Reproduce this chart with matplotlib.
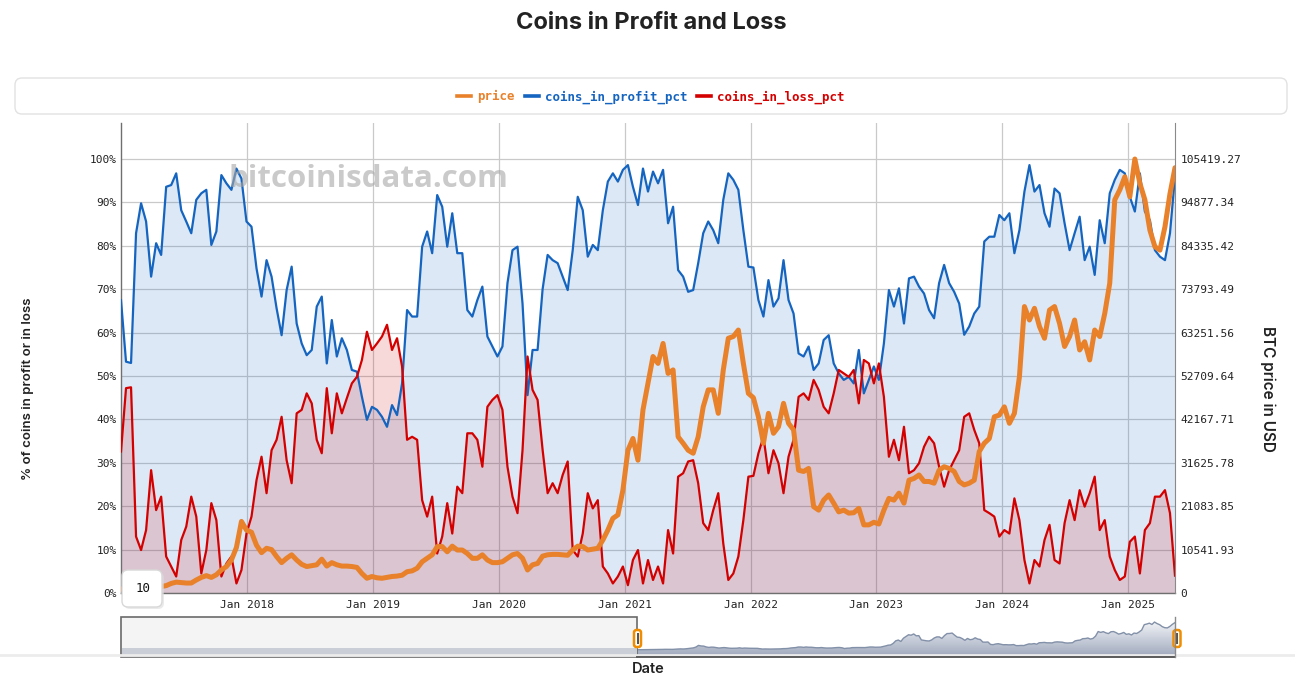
import numpy as np
import pandas as pd
import matplotlib
matplotlib.use('Agg')
import matplotlib.pyplot as plt
import matplotlib.dates as mdates
from matplotlib.patches import FancyBboxPatch, Rectangle, PathPatch
from matplotlib.lines import Line2D
from matplotlib.ticker import FixedLocator, FuncFormatter
from matplotlib.colors import LinearSegmentedColormap

# weekly data, sampled about every two weeks
dates = pd.date_range('2017-01-01', '2025-05-16', periods=211)

profit_pct = [
    67.5, 53.3, 53.0, 82.9, 89.8, 85.6, 72.9, 80.6, 77.9, 93.6,
    94.0, 96.7, 88.2, 85.6, 82.9, 90.6, 92.1, 92.9, 80.2, 83.3,
    96.3, 94.4, 92.9, 97.8, 95.5, 85.6, 84.4, 74.8, 68.3, 76.7,
    72.9, 65.6, 59.4, 69.8, 75.2, 62.1, 57.5, 54.8, 56.0, 66.0,
    68.3, 52.9, 62.9,
    54.5, 58.7, 56.0, 51.4, 51.0, 45.2, 39.9, 42.9, 42.2, 40.6,
    38.3, 43.3, 41.0, 48.3, 65.2, 63.7, 63.7, 79.8, 83.3, 78.3,
    91.7, 89.0, 79.8, 87.5, 78.3, 78.3, 65.2, 63.7, 67.5, 70.6,
    59.1, 56.8, 54.5, 56.8, 71.4, 79.0, 79.8, 66.7, 45.6, 56.0,
    56.0, 70.0,
    77.9, 76.7, 76.0, 72.9, 69.8, 79.0, 91.3, 88.2, 77.5, 80.2,
    79.0, 88.2, 94.8, 96.7, 94.8, 97.5, 98.6, 93.6, 89.4, 97.8,
    92.5, 97.1, 94.4, 97.5, 85.2, 89.0, 74.4, 72.9, 69.4, 69.8,
    76.0, 82.9, 85.6, 83.6, 80.6, 90.6, 96.7, 95.2, 92.9, 83.6,
    75.2, 75.0,
    67.5, 63.7, 72.1, 66.0, 67.9, 76.7, 67.5, 64.4, 55.2, 54.5,
    56.8, 51.4, 52.9, 58.3, 59.4, 52.9, 50.6, 49.1, 49.8, 48.3,
    56.0, 46.0, 49.1, 52.2, 49.1, 57.5, 69.8, 66.0, 70.2, 62.1,
    72.5, 72.9, 70.6, 69.0, 65.2, 63.3, 71.4, 75.6, 71.4, 69.4,
    66.7, 59.5,
    61.4, 64.4, 66.0, 81.0, 82.1, 82.1, 87.1, 85.9, 87.5, 78.3,
    83.6, 92.5, 98.6, 92.5, 94.0, 87.5, 84.4, 93.2, 92.1, 85.2,
    79.0, 82.9, 86.7, 76.7, 79.8, 73.3, 85.9, 80.6, 92.1, 95.2,
    97.5, 96.7, 91.3, 87.9, 96.7, 87.9, 85.9, 79.0, 77.5, 76.7,
    82.9, 96.0,
]

loss_pct = [
    32.6, 47.2, 47.4, 13.0, 9.9, 14.5, 28.3, 19.1, 22.2, 8.4,
    6.1, 3.8, 12.2, 15.3, 22.2, 17.6, 4.5, 9.9, 20.7, 16.8,
    3.8, 6.8, 8.4, 2.2, 5.3, 13.7, 17.6, 26.0, 31.4, 23.0,
    32.9, 35.3, 40.6, 30.6, 25.3, 41.4, 42.2, 46.0, 43.7, 35.3,
    32.2, 47.2, 36.8,
    46.0, 41.4, 44.9, 48.3, 49.8, 53.7, 60.2, 56.0, 57.5, 59.1,
    61.8, 56.0, 58.7, 52.2, 35.3, 36.0, 35.3, 21.4, 17.6, 22.2,
    9.1, 13.0, 20.7, 13.7, 24.5, 23.0, 36.8, 36.8, 35.3, 29.1,
    42.9, 44.5, 45.6, 42.2, 29.1, 22.2, 18.4, 32.9, 54.5, 46.8,
    44.5, 33.0,
    23.0, 25.3, 23.0, 27.2, 30.3, 9.9, 8.4, 13.7, 23.0, 19.5,
    21.4, 6.1, 4.5, 2.2, 3.8, 6.1, 1.8, 7.6, 9.9, 2.2,
    7.6, 3.0, 6.1, 2.2, 14.5, 9.1, 26.8, 27.6, 30.3, 30.6,
    25.3, 16.1, 14.5, 19.1, 23.0, 11.4, 3.0, 4.5, 8.4, 16.8,
    26.8, 27.0,
    32.2, 36.0, 27.6, 32.9, 29.9, 23.0, 31.4, 35.3, 45.2, 46.0,
    44.5, 49.1, 46.8, 42.9, 41.4, 46.0, 51.4, 50.6, 49.8, 51.4,
    43.7, 53.7, 52.9, 48.3, 52.9, 45.2, 31.4, 35.3, 30.6, 38.3,
    27.6, 28.3, 29.9, 33.7, 36.0, 34.5, 29.1, 24.5, 28.3, 30.6,
    32.9, 40.6,
    41.4, 37.6, 34.5, 19.1, 18.4, 17.6, 13.0, 14.5, 13.7, 21.8,
    16.8, 7.6, 2.2, 7.6, 6.1, 12.2, 15.7, 7.6, 6.8, 16.1,
    21.4, 16.8, 23.7, 19.9, 23.0, 26.8, 14.5, 16.8, 8.4, 5.3,
    3.0, 3.8, 11.8, 13.0, 4.5, 14.5, 16.1, 22.2, 22.2, 23.7,
    18.4, 4.0,
]

# BTC price, thousands of USD
price_k = [
    0.95, 1.05, 1.05, 1.05, 1.16, 1.16, 1.26, 1.37, 1.58, 1.79,
    2.32, 2.64, 2.53, 2.42, 2.42, 3.16, 3.79, 4.22, 3.79, 4.43,
    5.59, 6.43, 8.01, 11.07, 17.39, 15.28, 14.76, 11.60, 9.80, 10.86,
    10.54, 8.85, 7.38, 8.43, 9.28, 8.01, 6.96, 6.43, 6.64, 6.85,
    8.22, 6.54, 7.38,
    6.85, 6.54, 6.54, 6.43, 6.22, 4.74, 3.58, 4.01, 3.69, 3.58,
    3.79, 4.01, 4.11, 4.32, 5.17, 5.38, 6.01, 7.59, 8.43, 9.28,
    11.28, 11.28, 10.01, 11.38, 10.44, 10.44, 9.59, 8.43, 8.43, 9.28,
    8.01, 7.38, 7.38, 7.59, 8.43, 9.28, 9.59, 8.43, 5.59, 6.85,
    7.17, 8.96,
    9.28, 9.38, 9.38, 9.28, 9.17, 10.44, 11.38, 11.28, 10.44, 10.65,
    10.86, 12.86, 15.28, 18.13, 18.97, 24.98, 34.68, 37.53, 32.26, 44.49,
    50.91, 57.45, 55.77, 60.62, 53.34, 54.19, 37.95, 36.37, 34.68, 33.94,
    37.95, 45.22, 49.34, 49.34, 43.64, 54.19, 61.88, 62.30, 63.88, 55.77,
    48.49, 47.44,
    42.80, 36.37, 43.64, 38.79, 40.37, 46.07, 41.22, 39.64, 29.83, 29.52,
    30.25, 20.98, 20.13, 22.56, 23.82, 21.82, 19.71, 20.13, 19.40, 19.50,
    20.56, 16.55, 16.55, 17.18, 16.76, 20.13, 22.98, 22.56, 24.25, 21.82,
    27.41, 27.83, 28.67, 27.09, 27.09, 26.67, 29.83, 30.68, 30.25, 29.52,
    27.09, 26.25,
    26.67, 27.41, 34.37, 36.37, 37.53, 42.80, 43.22, 45.22, 41.22, 43.64,
    52.50, 69.58, 66.31, 69.16, 64.73, 61.88, 68.73, 69.58, 65.47, 59.88,
    62.30, 66.31, 59.03, 61.04, 56.61, 63.88, 62.30, 67.89, 75.27, 95.51,
    97.93, 101.10, 96.25, 105.41927, 99.51, 95.51, 88.13, 84.12, 83.28, 88.97,
    97.00, 103.31,
]

series_names = ['price', 'coins_in_profit_pct', 'coins_in_loss_pct']
tick_years = pd.date_range('2018-01-01', '2025-01-01', freq='YS')
year_fmt = '%b %Y'

C_PRICE = '#e8812a'
C_PROFIT = '#1565c0'
C_LOSS = '#d40000'
MONO = 'DejaVu Sans Mono'
SANS = ['Inter', 'DejaVu Sans']

W, H = 1295, 693
fig = plt.figure(figsize=(W / 100, H / 100), dpi=100)
fig.patch.set_facecolor('white')


def rect(x0, y0, x1, y1):
    # pixel box (top-left origin) -> figure fraction
    return [x0 / W, 1 - y1 / H, (x1 - x0) / W, (y1 - y0) / H]


def px(x, y):
    # pixel point -> inches for fig.dpi_scale_trans
    return x / 100, (H - y) / 100


profit = np.array(profit_pct)
loss = np.array(loss_pct)
price = np.array(price_k)
pmax = price.max()
ytop = 108.3

# ---- main chart
ax = fig.add_axes(rect(121, 123, 1175, 593))
ax.fill_between(dates, profit, 0, color=C_PROFIT, alpha=0.15, lw=0)
ax.fill_between(dates, loss, 0, color=C_LOSS, alpha=0.15, lw=0)
ax.plot(dates, profit, color=C_PROFIT, lw=1.6, zorder=3)
ax.plot(dates, loss, color=C_LOSS, lw=1.6, zorder=3)
ax.set_xlim(dates[0], dates[-1])
ax.set_ylim(0, ytop)
ax.yaxis.set_major_locator(FixedLocator(np.arange(0, 101, 10)))
ax.yaxis.set_major_formatter(FuncFormatter(lambda v, _: f'{v:.0f}%'))
ax.xaxis.set_major_locator(FixedLocator(mdates.date2num(tick_years)))
ax.xaxis.set_major_formatter(mdates.DateFormatter(year_fmt))
ax.grid(True, color='#c9c9c9', lw=0.9)
ax.set_axisbelow(True)
ax.tick_params(length=0, labelsize=8, labelcolor='#222222', pad=3)
for lab in ax.get_xticklabels() + ax.get_yticklabels():
    lab.set_family(MONO)
ax.tick_params(axis='x', pad=5)
for s in ['top', 'right']:
    ax.spines[s].set_visible(False)
for s in ['left', 'bottom']:
    ax.spines[s].set_color('#6f6f6f')
    ax.spines[s].set_linewidth(1.0)

ax2 = ax.twinx()
ax2.plot(dates, price, color=C_PRICE, lw=3.6, solid_capstyle='round', zorder=4)
ax2.set_ylim(0, ytop * pmax / 100)
ax2.yaxis.set_major_locator(FixedLocator(pmax * np.arange(0, 11) / 10))
ax2.yaxis.set_major_formatter(
    FuncFormatter(lambda v, _: '0' if v == 0 else f'{v * 1000:.2f}'))
ax2.tick_params(length=0, labelsize=8, labelcolor='#222222', pad=4)
for lab in ax2.get_yticklabels():
    lab.set_family(MONO)
for s in ['top', 'left', 'bottom']:
    ax2.spines[s].set_visible(False)
ax2.spines['right'].set_color('#8a8a8a')
ax2.patch.set_visible(False)

# watermark
fig.text(368 / W, 1 - 179 / H, 'bitcoinisdata.com', ha='center', va='center',
         fontsize=22.5, fontweight='bold', family=['Open Sans', 'DejaVu Sans'],
         color='#a8a8a8', alpha=0.6)

# ---- titles and labels
fig.text(651 / W, 1 - 23 / H, 'Coins in Profit and Loss', ha='center', va='center',
         fontsize=17, fontweight='bold', family=SANS, color='#222222')
fig.text(28 / W, 1 - 389 / H, '% of coins in profit or in loss', rotation=90,
         ha='center', va='center', fontsize=9.5, fontweight='semibold',
         family=SANS, color='#222222')
fig.text(1268 / W, 1 - 389 / H, 'BTC price in USD', rotation=270,
         ha='center', va='center', fontsize=11, fontweight='semibold',
         family=SANS, color='#222222')
fig.text(648 / W, 1 - 669 / H, 'Date', ha='center', va='center',
         fontsize=10.5, fontweight='semibold', family=SANS, color='#222222')

# ---- legend panel
fig.patches.append(FancyBboxPatch(px(15, 114), 1272 / 100, 36 / 100,
                                  boxstyle='round,pad=0,rounding_size=0.07',
                                  transform=fig.dpi_scale_trans,
                                  fc='white', ec='#e2e2e2', lw=1, figure=fig))
handles = [Line2D([], [], color=c, lw=2.6)
           for c in (C_PRICE, C_PROFIT, C_LOSS)]
leg = fig.legend(handles, series_names, loc='center', ncol=3, frameon=False,
                 bbox_to_anchor=(651 / W, 1 - 97 / H),
                 prop={'family': MONO, 'weight': 'bold', 'size': 9},
                 handlelength=1.1, handletextpad=0.5, columnspacing=0.8)
for txt, c in zip(leg.get_texts(), (C_PRICE, C_PROFIT, C_LOSS)):
    txt.set_color(c)

# roll period box
fig.patches.append(FancyBboxPatch(px(124, 609), 40 / 100, 37 / 100,
                                  boxstyle='round,pad=0,rounding_size=0.06',
                                  transform=fig.dpi_scale_trans,
                                  fc='#dddddd', ec='none', alpha=0.6, figure=fig))
fig.patches.append(FancyBboxPatch(px(122, 607), 40 / 100, 37 / 100,
                                  boxstyle='round,pad=0,rounding_size=0.06',
                                  transform=fig.dpi_scale_trans,
                                  fc='white', ec='#d8d8d8', lw=1, figure=fig))
fig.text(143 / W, 1 - 589 / H, '10', ha='center', va='center', fontsize=9,
         family=MONO, color='#111111')

# ---- range selector
fig.add_artist(Line2D([0, 1], [1 - 655 / H] * 2, color='#ececec', lw=2,
                      transform=fig.transFigure))
axm = fig.add_axes(rect(637, 617, 1175, 657))
lo, hi = -0.25 * pmax, 1.18 * pmax
fill = axm.fill_between(dates, price, lo, facecolor='none', lw=0)
clip = PathPatch(fill.get_paths()[0], transform=axm.transData, fc='none', lw=0)
axm.add_patch(clip)
x0n, x1n = mdates.date2num(dates[0]), mdates.date2num(dates[-1])
grad = np.linspace(0, 1, 100).reshape(-1, 1)
cmap = LinearSegmentedColormap.from_list('sel', ['#eef0f4', '#9ea8bc'])
im = axm.imshow(grad, cmap=cmap, aspect='auto', extent=[x0n, x1n, lo, 0.95 * pmax],
                origin='upper', zorder=1)
im.set_clip_path(clip)
axm.plot(dates, price, color='#8290a8', lw=1.0, zorder=2)
axm.set_xlim(dates[0], dates[-1])
axm.set_ylim(lo, hi)
axm.axis('off')

fig.patches.append(Rectangle(px(121, 657), 516 / 100, 40 / 100,
                             transform=fig.dpi_scale_trans, fc='#f4f4f4',
                             ec='#6a6a6a', lw=1.2, figure=fig))
fig.patches.append(Rectangle(px(121.6, 656), 515 / 100, 8 / 100,
                             transform=fig.dpi_scale_trans, fc='#c9ced7',
                             lw=0, figure=fig))
fig.add_artist(Line2D([637 / W, 1175 / W], [1 - 656.5 / H] * 2, color='#5a5a5a',
                      lw=1.4, transform=fig.transFigure))
fig.add_artist(Line2D([1175 / W] * 2, [1 - 617 / H, 1 - 657 / H], color='#8a8a8a',
                      lw=1.0, transform=fig.transFigure))
for hx in (637.5, 1177):
    fig.patches.append(FancyBboxPatch(px(hx - 3.5, 647), 7 / 100, 17 / 100,
                                      boxstyle='round,pad=0,rounding_size=0.025',
                                      transform=fig.dpi_scale_trans,
                                      fc='white', ec='#f08c00', lw=1.8, figure=fig))
    fig.patches.append(Rectangle(px(hx - 1, 644), 2 / 100, 11 / 100,
                                 transform=fig.dpi_scale_trans, fc='#555555',
                                 lw=0, figure=fig))

fig.savefig('out.png', dpi=100)
